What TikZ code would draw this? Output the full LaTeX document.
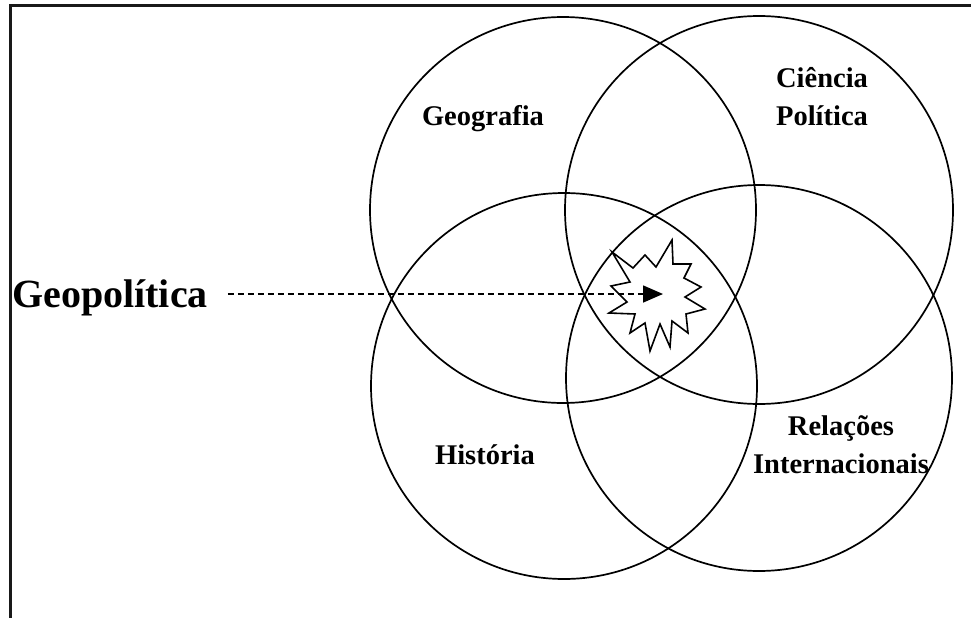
\documentclass[tikz,border=0pt]{standalone}
\usepackage{fontspec}
\setmainfont{Liberation Serif}
\usetikzlibrary{arrows.meta}
\tikzset{
  venn/.style={draw=black, line width=1.7pt},
  lbl/.style={font=\bfseries\fontsize{28.5}{38}\selectfont, inner sep=0pt, align=center, anchor=base},
  frameline/.style={line width=2.6pt, draw=black!90},
  pointer/.style={line width=1.6pt, dash pattern=on 6pt off 4pt, -{Triangle[length=20pt,width=17pt]}},
  burst/.style={draw=black, fill=white, line width=1.6pt, line join=miter}
}
\begin{document}
\begin{tikzpicture}[x=1pt,y=-1pt]
\useasboundingbox (0,0) rectangle (971,618);
% frame (top and left only)
\draw[frameline] (971,5.5) -- (10.3,5.5) -- (10.3,618);
% circles
\draw[venn] (563,210) circle [radius=193pt];
\draw[venn] (759,210) circle [radius=194pt];
\draw[venn] (564,386) circle [radius=193pt];
\draw[venn] (759,378) circle [radius=193pt];
% starburst
\draw[burst] (612,252) -- (633,268) -- (645,255) -- (656,267) -- (672,240) -- (673,264)
  -- (691,264) -- (684,278) -- (701,287) -- (685,297) -- (705,309) -- (686,314)
  -- (688,333) -- (672,321) -- (670,347) -- (660,324) -- (650,351) -- (645,323)
  -- (630,333) -- (635,314) -- (609,313) -- (627,302) -- (611,286) -- (630,282) -- cycle;
% labels
\node[lbl] (geog) at (483,125) {Geografia};
\node[lbl] (cienc) at (822,125) {Ciência\\Política};
\node[lbl] (hist) at (485,464) {História};
\node[lbl] (rel) at (841,473) {Relações\\Internacionais};
\node[font=\bfseries\fontsize{40}{48}\selectfont, inner sep=0pt, anchor=base west] (geo) at (12,307) {Geopolítica};
\coordinate (tip) at (663,294);
\draw[pointer] ([xshift=20pt]geo.east |- tip) -- (tip);
\end{tikzpicture}
\end{document}
